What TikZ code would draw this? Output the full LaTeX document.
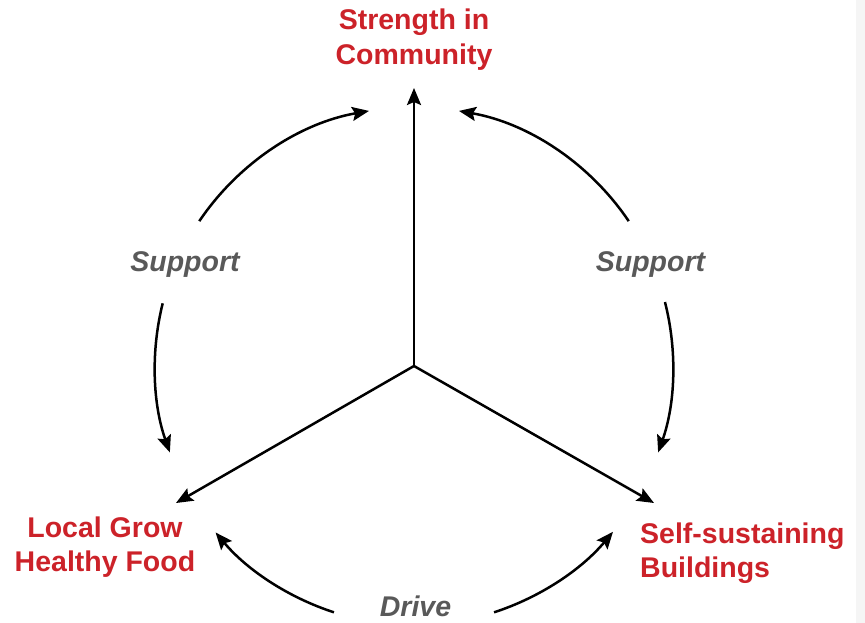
\documentclass[tikz,border=0pt]{standalone}
\usepackage{fontspec}
\setmainfont{Liberation Sans}
\usetikzlibrary{arrows.meta,calc}
\definecolor{titlered}{HTML}{CC2229}
\definecolor{labelgray}{HTML}{595959}
\definecolor{stripgray}{HTML}{F5F5F5}
\tikzset{
  conn/.style={line width=2.5pt, -{Stealth[length=17pt,width=14pt,inset=3pt]}},
  title/.style={text=titlered, font=\fontsize{28.5}{35}\selectfont\bfseries, inner sep=0pt},
  lbl/.style={text=labelgray, font=\fontsize{28.5}{34}\selectfont\bfseries\itshape, inner sep=0pt, anchor=base},
}
\begin{document}
\begin{tikzpicture}[x=1pt,y=1pt]
\useasboundingbox (0,0) rectangle (865,623);
\fill[stripgray] (856,0) rectangle (865,623);
\coordinate (c) at (414,257);
\coordinate (tU) at (414,535);
\coordinate (tL) at (176,120);
\coordinate (tR) at (654,120);
\node[title, align=center] (top) at (414,583) {Strength in\\Community};
\node[title, align=center, font=\fontsize{28.5}{34}\selectfont\bfseries] (food) at (105,76) {Local Grow\\Healthy Food};
\node[title, align=left, anchor=west, font=\fontsize{28.5}{34}\selectfont\bfseries] (bld) at (640,70) {Self-sustaining\\Buildings};
\node[lbl] (supL) at (185,351) {Support};
\node[lbl] (supR) at (650.5,351) {Support};
\node[lbl] (drive) at (415.5,6) {Drive};
\draw[conn] (c) -- (tU);
\draw[conn] (c) -- (tL);
\draw[conn] (c) -- (tR);
\draw[conn] ($(c)+(146:259)$) arc[start angle=146, end angle=100, radius=259];
\draw[conn] ($(c)+(34:259)$) arc[start angle=34, end angle=80, radius=259];
\draw[conn] ($(c)+(166:259)$) arc[start angle=166, end angle=199.5, radius=259];
\draw[conn] ($(c)+(14.3:259)$) arc[start angle=14.3, end angle=-19.5, radius=259];
\draw[conn] ($(c)+(252:259)$) arc[start angle=252, end angle=220, radius=259];
\draw[conn] ($(c)+(288:259)$) arc[start angle=288, end angle=320.2, radius=259];
\end{tikzpicture}
\end{document}
